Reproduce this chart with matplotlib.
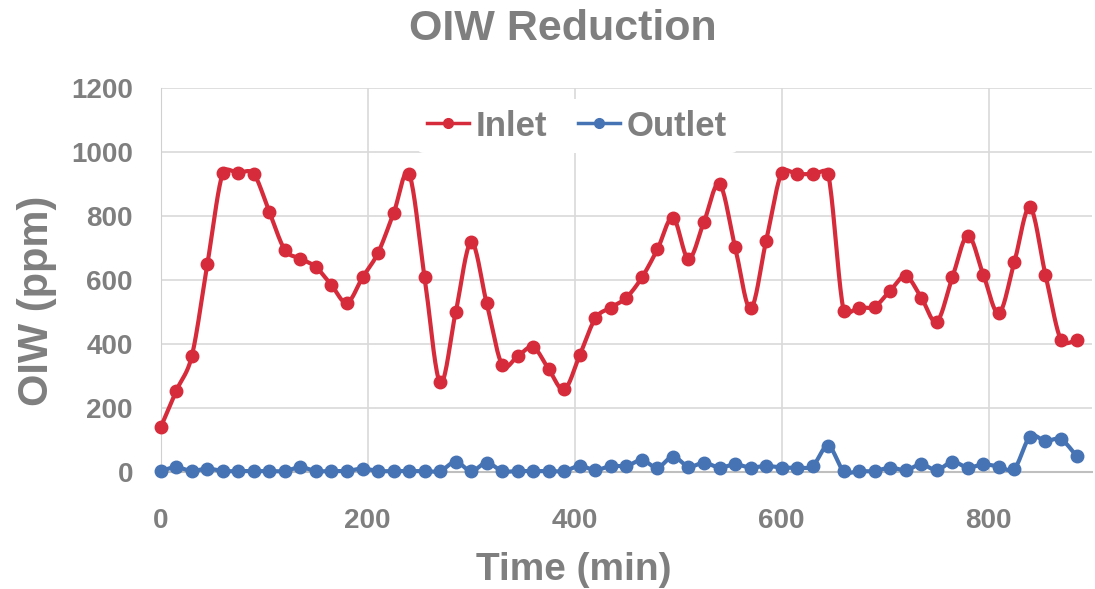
import numpy as np
import matplotlib.pyplot as plt

# Data (one reading every 15 min)
time_min = np.arange(0, 886, 15)
inlet = [140, 254, 362, 649, 935, 935, 931, 812, 694, 667,
         640, 584, 529, 608, 685, 808, 931, 608, 280, 499,
         718, 527, 334, 362, 390, 321, 258, 366, 480, 514,
         545, 608, 696, 795, 666, 782, 900, 704, 511, 722,
         935, 931, 931, 931, 504, 514, 517, 567, 612, 545,
         470, 608, 739, 616, 496, 657, 827, 616, 412, 412]
outlet = [3, 15, 3, 11, 3, 3, 3, 3, 3, 15,
          3, 3, 3, 11, 3, 3, 3, 3, 3, 32,
          3, 29, 3, 3, 3, 3, 3, 19, 6, 19,
          19, 37, 14, 48, 17, 29, 14, 24, 14, 19,
          14, 14, 19, 82, 3, 3, 3, 14, 6, 24,
          6, 32, 14, 24, 17, 11, 110, 97, 102, 50]

RED = '#D62B3A'
BLUE = '#4673B4'
GRAY = '#7F7F7F'
FONT = 'Liberation Sans'

# rough pixel size of one data unit, used to limit the spline arms like Excel does
SX, SY = 1.035, 0.32


def smooth(x, y, n=20):
    # Excel-style smoothed line: Catmull-Rom Beziers, arms capped at half the segment
    x = np.asarray(x, float) * SX
    y = np.asarray(y, float) * SY
    p = np.column_stack([x, y])
    p = np.vstack([p[0], p, p[-1]])
    t = np.linspace(0, 1, n)[:, None]
    out = []
    for i in range(1, len(p) - 2):
        p0, p1, p2, p3 = p[i - 1], p[i], p[i + 1], p[i + 2]
        d12 = np.linalg.norm(p2 - p1)
        d02 = np.linalg.norm(p2 - p0)
        d13 = np.linalg.norm(p3 - p1)
        f1 = min(1 / 6, d12 / (2 * d02)) if d02 > 0 else 0
        f2 = min(1 / 6, d12 / (2 * d13)) if d13 > 0 else 0
        c1 = p1 + (p2 - p0) * f1
        c2 = p2 - (p3 - p1) * f2
        b = (1 - t) ** 3 * p1 + 3 * (1 - t) ** 2 * t * c1 + 3 * (1 - t) * t ** 2 * c2 + t ** 3 * p2
        out.append(b)
    b = np.vstack(out)
    return b[:, 0] / SX, b[:, 1] / SY


fig = plt.figure(figsize=(10.95, 5.89), dpi=100)
ax = fig.add_axes([0.1468, 0.1986, 0.8505, 0.652])

for y, c, name in [(inlet, RED, 'Inlet'), (outlet, BLUE, 'Outlet')]:
    sx, sy = smooth(time_min, y)
    ax.plot(sx, sy, color=c, lw=3, clip_on=False, zorder=3)
    ax.plot(time_min, y, 'o', color=c, ms=9, clip_on=False, zorder=4)
    ax.plot([], [], '-o', color=c, lw=2.5, ms=7, label=name)

ax.set_xlim(0, 900)
ax.set_ylim(0, 1200)
ax.set_xticks([0, 200, 400, 600, 800])
ax.set_yticks(range(0, 1201, 200))
ax.grid(True, color='#D9D9D9', lw=1.2)
ax.set_axisbelow(True)
for s in ['top', 'right']:
    ax.spines[s].set_visible(False)
ax.spines['left'].set_color('#D0D0D0')
ax.spines['bottom'].set_color('#BFBFBF')
ax.spines['bottom'].set_linewidth(1.5)
ax.tick_params(length=0, labelcolor=GRAY)
ax.tick_params(axis='y', pad=20)
ax.tick_params(axis='x', pad=26)
for lab in ax.get_xticklabels() + ax.get_yticklabels():
    lab.set_fontfamily(FONT)
    lab.set_fontweight('bold')
    lab.set_fontsize(20)

ax.set_xlabel('Time (min)', fontsize=28, fontweight='bold', color=GRAY, family=FONT)
ax.set_ylabel('OIW (ppm)', fontsize=30, fontweight='bold', color=GRAY, family=FONT)
ax.xaxis.set_label_coords(0.444, -0.255)
ax.yaxis.set_label_coords(-0.133, 0.445)
ax.xaxis.label.set_va('center')
ax.yaxis.label.set_va('center')
fig.text(0.514, 0.951, 'OIW Reduction', ha='center', va='center', fontsize=31,
         fontweight='bold', color=GRAY, family=FONT)

leg = fig.legend(loc='center', bbox_to_anchor=(0.527, 0.786), ncol=2, frameon=True,
                 handlelength=1.2, handletextpad=0.2, columnspacing=0.9, borderpad=0.3,
                 prop={'family': FONT, 'size': 25, 'weight': 'bold'})
leg.get_frame().set_facecolor('white')
leg.get_frame().set_edgecolor('none')
leg.get_frame().set_alpha(1)
for t in leg.get_texts():
    t.set_color(GRAY)

fig.savefig('out.png', dpi=100)
